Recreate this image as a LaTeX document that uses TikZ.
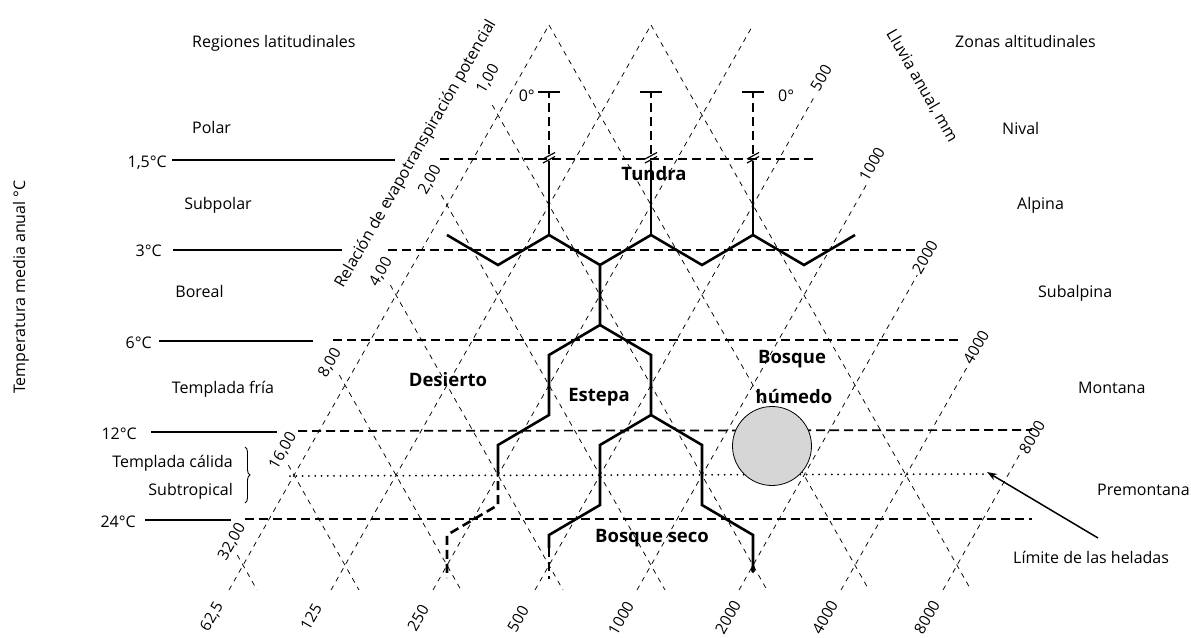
\documentclass[tikz,border=0pt]{standalone}
\usepackage{fontspec}
\setmainfont{Open Sans}
\usetikzlibrary{decorations.pathreplacing,arrows.meta}
\begin{document}
\begin{tikzpicture}[x=1pt,y=-1pt,
  gridline/.style={line width=0.75pt, dash pattern=on 5pt off 5pt},
  tsolid/.style={line width=1.7pt},
  tdash/.style={line width=1.7pt, dash pattern=on 9pt off 5pt},
  hexl/.style={line width=2.6pt},
  hexd/.style={line width=2.6pt, dash pattern=on 9pt off 5pt},
  frostl/.style={line width=2pt, dash pattern=on 0pt off 6.3pt, line cap=round},
  lab/.style={font=\fontsize{16}{18}\selectfont, inner sep=0pt},
  zone/.style={font=\fontsize{18.5}{20}\selectfont\bfseries, inner sep=0pt},
  num/.style={font=\fontsize{15.5}{17}\selectfont, inner sep=0pt, rotate=60},
  brk/.style={line width=1.2pt},
]
\useasboundingbox (0,0) rectangle (1191,637);

% ---- triangular grid: precipitation lines (up-right)
\draw[gridline] (229,590) -- (549,25);
\draw[gridline] (331,590) -- (651,25);
\draw[gridline] (433,590) -- (753,25);
\draw[gridline] (535,590) -- (815.3,95);
\draw[gridline] (637,590) -- (866.3,185);
\draw[gridline] (739,590) -- (917.3,275);
\draw[gridline] (841,590) -- (968.3,365);
\draw[gridline] (943,590) -- (1019.3,455);
% ---- PET ratio lines (down-right)
\draw[gridline] (237.3,555) -- (257,590);
\draw[gridline] (288.3,465) -- (359,590);
\draw[gridline] (339.3,375) -- (461,590);
\draw[gridline] (390.3,285) -- (563,590);
\draw[gridline] (441.3,195) -- (665,590);
\draw[gridline] (492.3,105) -- (767,590);
\draw[gridline] (549,25) -- (869,590);
\draw[gridline] (651,25) -- (971,590);

% ---- temperature lines
\draw[tsolid] (172,160) -- (395,160);
\draw[tdash]  (440,159) -- (817,159);
\draw[tsolid] (173,250) -- (342,250);
\draw[tdash]  (388,250) -- (918,250);
\draw[tsolid] (159,341) -- (313,341);
\draw[tdash]  (333,340) -- (958,340);
\draw[tsolid] (151,432) -- (277,432);
\draw[tdash]  (298,431) -- (1032,430);
\draw[tsolid] (145,520) -- (231,520);
\draw[tdash]  (245,519) -- (1032,519);
\draw[frostl] (290,476) -- (985,474);

% ---- life zone boundaries
\draw[hexl] (447,235) -- (498,265) -- (549,235) -- (600,265) -- (651,235)
  -- (702,265) -- (753,235) -- (804,265) -- (855,235);
\foreach \x in {549,651,753} {
  \draw[hexl] (\x,235) -- (\x,161);
  \draw[tdash, line width=2pt] (\x,154) -- (\x,92);
  \draw[line width=2pt] (\x-11,92) -- (\x+11,92);
  \draw[brk] (\x-6,159) -- (\x+6,152.5);
  \draw[brk] (\x-6,163) -- (\x+6,156.5);
}
\draw[hexl] (600,265) -- (600,325) -- (549,355) -- (549,415) -- (498,445) -- (498,467);
\draw[hexd] (498,467) -- (498,505) -- (447,535) -- (447,578);
\draw[hexl] (600,325) -- (651,355) -- (651,415) -- (702,445) -- (702,505) -- (753,535) -- (753,572);
\fill (753,569) ellipse (2pt and 4pt);
\draw[hexl] (651,415) -- (600,445) -- (600,505) -- (549,535) -- (549,548);
\draw[hexd] (549,548) -- (549,579);

% ---- circle and arrow
\node[circle, draw, fill=black!16, minimum size=79pt, inner sep=0pt, line width=0.8pt] (wet) at (772,446) {};
\coordinate (arrtail) at (1098,538);
\coordinate (arrhead) at (987,472);
\draw[line width=1.5pt, -{Stealth[length=10pt,width=7pt]}] (arrtail) -- (arrhead);

% ---- brace
\draw[decorate, decoration={brace, amplitude=5pt}, line width=0.9pt] (245,447) -- (245,503);

% ---- left labels
\node[lab, anchor=base west] (reglat) at (192,47) {Regiones latitudinales};
\node[lab, anchor=base west] (polar) at (192,133) {Polar};
\node[lab, anchor=base] (subpolar) at (218,209) {Subpolar};
\node[lab, anchor=base] (boreal) at (199.5,297) {Boreal};
\node[lab, anchor=base] (tfria) at (223,393) {Templada fría};
\node[lab, anchor=base east] (tcalida) at (233,467) {Templada cálida};
\node[lab, anchor=base east] (subtrop) at (233,495) {Subtropical};
\node[lab, anchor=base east] (t15) at (167,167) {1,5°C};
\node[lab, anchor=base east] (t3) at (162,256) {3°C};
\node[lab, anchor=base east] (t6) at (152,348) {6°C};
\node[lab, anchor=base east] (t12) at (137,439) {12°C};
\node[lab, anchor=base east] (t24) at (136,527) {24°C};
\node[lab, rotate=90] (tmed) at (21,287) {Temperatura media anual °C};

% ---- right labels
\node[lab, anchor=base west] (zonalt) at (955,47) {Zonas altitudinales};
\node[lab, anchor=base west] (nival) at (1002,134) {Nival};
\node[lab, anchor=base west] (alpina) at (1017,209) {Alpina};
\node[lab, anchor=base west] (subalp) at (1038,297) {Subalpina};
\node[lab, anchor=base west] (montana) at (1078,393) {Montana};
\node[lab, anchor=base west] (premont) at (1097,495) {Premontana};
\node[lab, anchor=base west] (limite) at (1013,563) {Límite de las heladas};

% ---- axis titles
\node[lab, rotate=60] (pettitle) at (416,154) {Relación de evapotranspiración potencial};
\node[lab, rotate=-60] (raintitle) at (922,86) {Lluvia anual, mm};

% ---- zero-degree labels
\node[lab, anchor=base east] (zeroL) at (535,101) {0°};
\node[lab, anchor=base west] (zeroR) at (778,101) {0°};

% ---- PET values
\node[num] (p100) at (488,79) {1,00};
\node[num] (p200) at (430,180) {2,00};
\node[num] (p400) at (381,272) {4,00};
\node[num] (p800) at (330,363) {8,00};
\node[num] (p1600) at (283,451) {16,00};
\node[num] (p3200) at (232,542) {32,00};

% ---- rainfall values (bottom)
\node[num] (b625) at (212,617) {62,5};
\node[num] (b125) at (311,617) {125};
\node[num] (b250) at (418,618) {250};
\node[num] (b500) at (518,619) {500};
\node[num] (b1000) at (621,618) {1000};
\node[num] (b2000) at (728,617) {2000};
\node[num] (b4000) at (825,617) {4000};
\node[num] (b8000) at (927,617) {8000};

% ---- rainfall values (top right)
\node[num] (r500) at (821,78) {500};
\node[num] (r1000) at (872,164) {1000};
\node[num] (r2000) at (925,257) {2000};
\node[num] (r4000) at (976,347) {4000};
\node[num] (r8000) at (1032,437) {8000};

% ---- zone names
\node[zone, anchor=base] (tundra) at (654,180) {Tundra};
\node[zone, anchor=base] (desierto) at (448,386) {Desierto};
\node[zone, anchor=base] (estepa) at (599,401) {Estepa};
\node[zone, anchor=base] (bosque) at (792,363) {Bosque};
\node[zone, anchor=base] (humedo) at (794,403) {húmedo};
\node[zone, anchor=base] (bseco) at (652,542) {Bosque seco};
\end{tikzpicture}
\end{document}
